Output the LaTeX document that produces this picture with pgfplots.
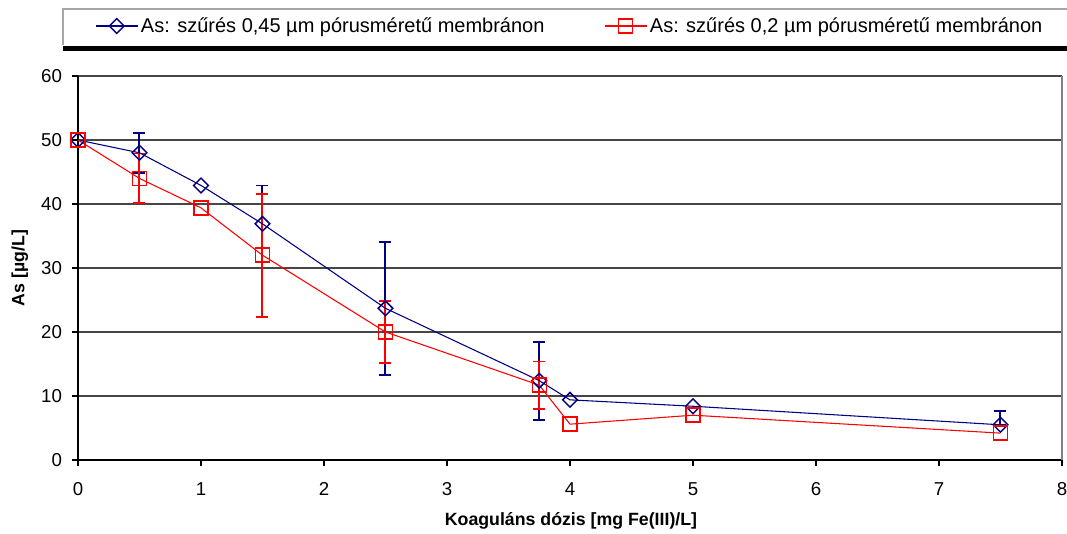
\documentclass[border=0pt]{standalone}
\usepackage{pgfplots}
\pgfplotsset{compat=1.18}
\usepackage{fontspec}
\setmainfont{Liberation Sans}
\definecolor{navy}{RGB}{0,0,128}
\definecolor{myred}{RGB}{255,0,0}
\definecolor{gridc}{RGB}{70,70,70}
\begin{document}
\begin{tikzpicture}[x=1pt,y=1pt]
\begin{axis}[
  at={(0,0)}, anchor=south west,
  scale only axis, width=738pt, height=288pt,
  xmin=0, xmax=8, ymin=0, ymax=60,
  xtick={0,1,...,8}, ytick={0,10,...,60},
  axis x line*=bottom, axis y line*=left,
  axis line style={black, line width=0.8pt, -},
  tick align=outside, major tick length=4.5pt,
  tick style={black, line width=0.8pt},
  ymajorgrids, grid style={gridc, line width=0.8pt},
  /pgf/number format/assume math mode=true,
  tick label style={font=\fontsize{14}{16}\selectfont},
  yticklabel style={xshift=-4pt},
  xticklabel style={yshift=-9pt},
  label style={font=\bfseries\fontsize{13.3}{15}\selectfont},
  xlabel={Koaguláns dózis [mg Fe(III)/L]},
  ylabel={As [µg/L]},
  xlabel style={at={(axis description cs:0.501,-0.159)}, anchor=center},
  ylabel style={at={(axis description cs:-0.0590,0.5)}, anchor=center},
  legend style={draw=none, fill=none, inner sep=0pt,
    at={(axis description cs:0.01728,1.1302)}, anchor=west,
    font=\fontsize{15}{17}\selectfont,
    /tikz/every even column/.append style={column sep=42.75pt}},
  legend columns=2, legend cell align=left,
  legend image code/.code={\draw[mark repeat=2,mark phase=2,#1] plot coordinates {(0pt,0pt)(15.75pt,0pt)(31.5pt,0pt)};},
  clip=false,
]
% error bars first, so that the marks lie over them
\addplot[forget plot, draw=none, mark=none, line width=1.5pt,
  error bars/.cd, y dir=both, y explicit,
  error bar style={draw=navy, line width=1.5pt},
  error mark options={draw=navy, line width=1.4pt, mark size=4.5pt, rotate=90}]
  table[x=x, y=y, y error plus=ep, y error minus=em] {
  x y ep em
  0.5 48 3.1 3.1
  1.5 36.9 6.0 6.0
  2.5 23.7 10.4 10.4
  3.75 12.4 6.1 6.1
  7.5 5.5 2.1 0
  };
\addplot[forget plot, draw=none, mark=none, line width=1.5pt,
  error bars/.cd, y dir=both, y explicit,
  error bar style={draw=myred, line width=1.5pt},
  error mark options={draw=myred, line width=1.4pt, mark size=4.5pt, rotate=90}]
  table[x=x, y=y, y error plus=ep, y error minus=em] {
  x y ep em
  0.5 44 3.9 3.9
  1.5 32 9.6 9.6
  2.5 20 4.8 4.8
  3.75 11.7 3.7 3.7
  };
\addplot[navy, line width=0.8pt, mark=square, mark size=3.9pt,
  mark options={solid, rotate=45, fill=white, line width=1.1pt}]
  table[x=x, y=y] {
  x y
  0 50
  0.5 48
  1 42.9
  1.5 36.9
  2.5 23.7
  3.75 12.4
  4 9.4
  5 8.4
  7.5 5.5
  };
\addlegendentry{As: szűrés 0,45 µm pórusméretű membránon}
\addplot[myred, line width=0.8pt, mark=square, mark size=5.25pt,
  mark options={solid, fill=white, line width=1.1pt}]
  table[x=x, y=y] {
  x y
  0 50
  0.5 44
  1 39.4
  1.5 32
  2.5 20
  3.75 11.7
  4 5.6
  5 7
  7.5 4.2
  };
\addlegendentry{As: szűrés 0,2 µm pórusméretű membránon}
\draw[gray, line width=0.8pt] (axis description cs:1,0) -- (axis description cs:1,1);
\end{axis}
\draw[gray!70, line width=0.8pt] (-11.25pt,310.9pt) -- (-11.25pt,338.25pt) -- (745pt,338.25pt);
\fill[black] (-11.25pt,307pt) rectangle (745pt,310.5pt);
\pgfresetboundingbox
\useasboundingbox (-58.5pt,-54.75pt) rectangle (741.75pt,345pt);
\end{tikzpicture}
\end{document}
